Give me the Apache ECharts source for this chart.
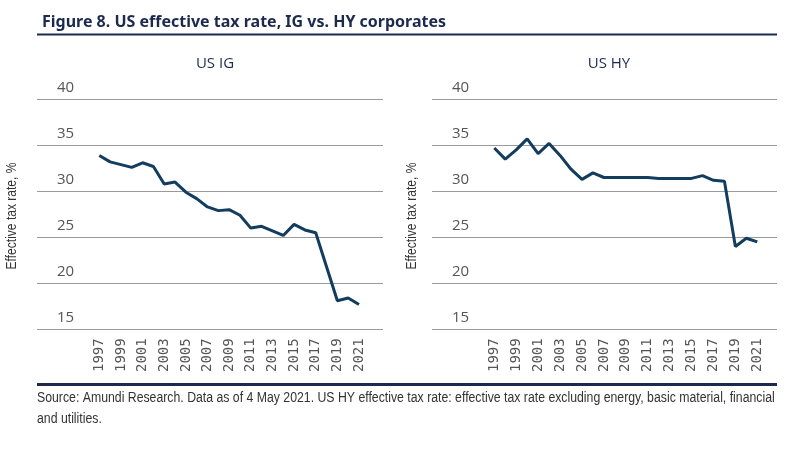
<!DOCTYPE html>
<html><head><meta charset="utf-8">
<script src="https://cdn.jsdelivr.net/npm/echarts@6/dist/echarts.min.js"></script>
<style>html,body{margin:0;padding:0;background:#fff}#c{width:800px;height:454px}</style>
</head><body><div id="c"></div>
<script>
var years = ['1997','1998','1999','2000','2001','2002','2003','2004','2005','2006','2007','2008','2009','2010','2011','2012','2013','2014','2015','2016','2017','2018','2019','2020','2021'];
var usIG = [33.9,33.2,32.9,32.6,33.1,32.7,30.8,31.0,29.9,29.2,28.3,27.9,28.0,27.4,26.0,26.2,25.7,25.2,26.4,25.8,25.5,21.8,18.1,18.4,17.7];
var usHY = [34.7,33.5,34.5,35.7,34.1,35.2,33.9,32.4,31.3,32.0,31.5,31.5,31.5,31.5,31.5,31.4,31.4,31.4,31.4,31.7,31.2,31.1,24.0,24.9,24.5];
var yTicks = {min:15, max:40, interval:5};
var panelTitles = ['US IG','US HY'];
var yName = 'Effective tax rate, %';
var mainTitle = 'Figure 8. US effective tax rate, IG vs. HY corporates';
var footerLines = ['Source: Amundi Research. Data as of 4 May 2021. US HY effective tax rate: effective tax rate excluding energy, basic material, financial', 'and utilities.'];

var navy = '#1b2a4e';
var lineColor = '#133d5e';
var top0 = 99.3, h0 = 230;
var chart = echarts.init(document.getElementById('c'));

function bgY(gi){
  return {gridIndex:gi, type:'value', min:yTicks.min, max:yTicks.max, interval:yTicks.interval,
    axisLine:{show:false}, axisTick:{show:false},
    splitLine:{show:true, lineStyle:{color:'#9a9a9a', width:1}},
    axisLabel:{inside:true, margin:20, verticalAlign:'bottom', padding:[0,0,4,0], color:'#555', fontSize:15, fontFamily:'Open Sans'}};
}
function dataY(gi){
  return {gridIndex:gi, type:'value', min:yTicks.min, max:yTicks.max, show:false, splitLine:{show:false}};
}
function bgX(gi){ return {gridIndex:gi, type:'value', show:false}; }
function dataX(gi){
  return {gridIndex:gi, type:'category', data:years, boundaryGap:false,
    axisLine:{show:false}, axisTick:{show:false},
    axisLabel:{rotate:90, interval:1, margin:9, color:'#555', fontSize:14, fontFamily:'DejaVu Sans Mono'}};
}
function yNameText(x){
  return {type:'text', x:x, y:216, rotation:Math.PI/2, scaleX:0.86,
    style:{text:yName, align:'center', verticalAlign:'middle', fontSize:14, fontFamily:'Liberation Sans', fill:'#333'}};
}

chart.setOption({
  animation:false,
  title:[
    {text:mainTitle, left:37, top:9, textStyle:{fontSize:16, fontWeight:'bold', color:navy, fontFamily:'Noto Sans'}},
    {text:panelTitles[0], left:210, textAlign:'center', top:51, textStyle:{fontSize:15, fontWeight:500, color:navy, fontFamily:'Open Sans'}},
    {text:panelTitles[1], left:604, textAlign:'center', top:51, textStyle:{fontSize:15, fontWeight:500, color:navy, fontFamily:'Open Sans'}}
  ],
  grid:[
    {left:37, width:346, top:top0, height:h0},
    {left:432, width:345, top:top0, height:h0},
    {left:99.3, width:259.7, top:top0, height:h0},
    {left:494.3, width:263, top:top0, height:h0}
  ],
  xAxis:[bgX(0), bgX(1), dataX(2), dataX(3)],
  yAxis:[bgY(0), bgY(1), dataY(2), dataY(3)],
  series:[
    {type:'line', xAxisIndex:2, yAxisIndex:2, data:usIG, showSymbol:false, lineStyle:{color:lineColor, width:3}},
    {type:'line', xAxisIndex:3, yAxisIndex:3, data:usHY, showSymbol:false, lineStyle:{color:lineColor, width:3}}
  ],
  graphic:[
    {type:'line', shape:{x1:37, y1:34.5, x2:777, y2:34.5}, style:{stroke:navy, lineWidth:2}},
    {type:'line', shape:{x1:37, y1:384.5, x2:777, y2:384.5}, style:{stroke:navy, lineWidth:3}},
    yNameText(12.5),
    yNameText(412.5),
    {type:'text', x:37, y:391, scaleX:0.877, style:{text:footerLines[0], fontSize:14, fontFamily:'Liberation Sans', fill:'#333'}},
    {type:'text', x:37, y:412, scaleX:0.877, style:{text:footerLines[1], fontSize:14, fontFamily:'Liberation Sans', fill:'#333'}}
  ]
});
</script></body></html>
